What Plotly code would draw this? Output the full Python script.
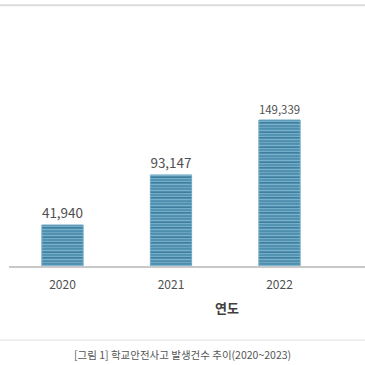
import plotly.graph_objects as go

years = ["2020", "2021", "2022"]
counts = [41940, 93147, 149339]
labels = ["41,940", "93,147", "149,339"]
x_title = "연도"
caption = "[그림 1] 학교안전사고 발생건수 추이(2020~2023)"

FONT = "Noto Sans CJK KR, Noto Sans, sans-serif"

fig = go.Figure()
# base bar with dark stripes
fig.add_trace(go.Bar(
    x=years, y=counts, text=labels, textposition="outside",
    textfont=dict(size=13.5, color="#505050", family=FONT),
    width=0.38, cliponaxis=False, hoverinfo="skip",
    marker=dict(
        color="#5393b3",
        line=dict(color="#6aa6c2", width=1),
        pattern=dict(shape="-", fgcolor="#2c6a8a", bgcolor="#5393b3", size=5, solidity=0.3),
    ),
))
# overlay of light stripes on the same bars
fig.add_trace(go.Bar(
    x=years, y=counts, width=0.38, hoverinfo="skip",
    marker=dict(
        color="rgba(0,0,0,0)",
        line=dict(width=0),
        pattern=dict(shape="-", fgcolor="#a8d2e4", bgcolor="rgba(0,0,0,0)", size=3, solidity=0.3),
    ),
))

fig.update_layout(
    width=365, height=365,
    margin=dict(l=9, r=0, t=30, b=99, autoexpand=False),
    paper_bgcolor="white", plot_bgcolor="white",
    showlegend=False, barmode="overlay",
    xaxis=dict(
        type="category", range=[-0.493, 2.788], automargin=False,
        showline=True, linecolor="#c8c8c8", linewidth=2,
        showgrid=False, ticks="outside", ticklen=7, tickcolor="rgba(0,0,0,0)",
        tickfont=dict(size=12, color="#505050", family=FONT),
    ),
    yaxis=dict(range=[0, 241400], visible=False, showgrid=False),
    shapes=[
        dict(type="line", xref="paper", yref="paper", x0=-0.03, x1=1, y0=1.105, y1=1.105,
             line=dict(color="#dddddd", width=2)),
        dict(type="line", xref="paper", yref="paper", x0=-0.03, x1=1, y0=-0.314, y1=-0.314,
             line=dict(color="#e0e0e0", width=1)),
    ],
    annotations=[
        dict(text="<b>" + x_title + "</b>", xref="paper", yref="paper", x=0.613, y=-0.174,
             yanchor="middle", xanchor="center",
             showarrow=False, font=dict(size=13, color="#404040", family=FONT)),
        dict(text=caption, xref="paper", yref="paper", x=0.488, y=-0.377,
             yanchor="middle", xanchor="center",
             showarrow=False, font=dict(size=10.5, color="#555555", family=FONT)),
    ],
)

fig.write_html("out.html", config={"displayModeBar": False},
               post_script="document.body.style.margin='0';")
